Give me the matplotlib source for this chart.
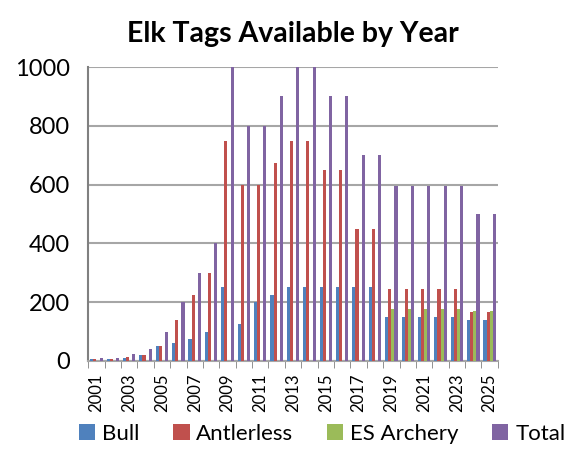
import matplotlib
matplotlib.use("Agg")
import matplotlib.pyplot as plt
import numpy as np

plt.rcParams['font.family'] = ['Lato', 'DejaVu Sans']

# --- data ---
years = list(range(2001, 2026))
bull = [5, 5, 10, 20, 50, 60, 75, 100, 250, 125, 200, 225, 250, 250, 250, 250,
        250, 250, 150, 150, 150, 150, 150, 140, 140]
antlerless = [5, 5, 12, 20, 50, 140, 225, 300, 750, 600, 600, 675, 750, 750, 650, 650,
              450, 450, 245, 245, 245, 245, 245, 165, 165]
es_archery = [0, 0, 0, 0, 0, 0, 0, 0, 0, 0, 0, 0, 0, 0, 0, 0,
              0, 0, 175, 175, 175, 175, 175, 170, 170]
total = [10, 10, 25, 40, 100, 200, 300, 400, 1000, 800, 800, 900, 1000, 1000, 900, 900,
         700, 700, 595, 595, 595, 595, 595, 500, 500]

series = [("Bull", bull, "#4F81BD"),
          ("Antlerless", antlerless, "#C0504D"),
          ("ES Archery", es_archery, "#9BBB59"),
          ("Total", total, "#8064A2")]

fig = plt.figure(figsize=(5.69, 4.5), dpi=100)
ax = fig.add_axes([0.155, 0.198, 0.72, 0.653])

x = np.arange(len(years))
w = 0.19
for i, (name, vals, col) in enumerate(series):
    off = (i - 1.5) * w
    ax.bar(x + off, vals, w, color=col, label=name, zorder=3)

ax.set_xlim(-0.5, len(years) - 0.5)
ax.set_ylim(0, 1000)
ax.set_yticks(range(0, 1001, 200))
ax.tick_params(axis='y', labelsize=17, length=0, pad=13)
ax.grid(axis='y', color='#A6A6A6', linewidth=1.5, zorder=0)

ax.set_xticks(x[::2])
ax.set_xticklabels([str(y) for y in years[::2]], rotation=90, fontsize=12)
ax.tick_params(axis='x', which='major', length=0, pad=9)
ax.set_xticks(np.arange(-0.5, len(years)), minor=True)
ax.tick_params(axis='x', which='minor', length=5, color='#808080')

for s in ['top', 'right']:
    ax.spines[s].set_visible(False)
ax.spines['left'].set_color('#808080')
ax.spines['bottom'].set_color('#A6A6A6')
ax.spines['left'].set_linewidth(1.5)
ax.spines['bottom'].set_linewidth(1.5)

ax.set_title("Elk Tags Available by Year", fontsize=20.5, fontweight='bold', pad=18)

fig.legend(loc='lower center', bbox_to_anchor=(0.566, -0.03), ncol=4, frameon=False,
           fontsize=16, handlelength=0.75, handleheight=0.75, handletextpad=0.3,
           columnspacing=1.5)

fig.savefig("out.png", dpi=100)
